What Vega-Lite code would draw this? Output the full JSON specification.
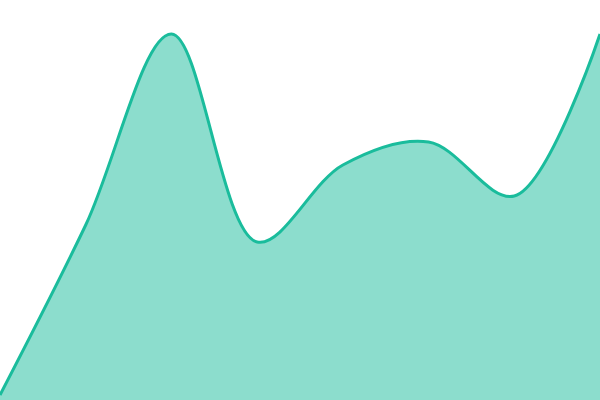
{
  "$schema": "https://vega.github.io/schema/vega-lite/v6.json",
  "autosize": {"type": "none"},
  "width": 600,
  "height": 400,
  "padding": 0,
  "view": {"stroke": null},
  "data": {
    "values": [
      {"i": 0, "v": 5},
      {"i": 1, "v": 175},
      {"i": 2, "v": 366},
      {"i": 3, "v": 158},
      {"i": 4, "v": 235},
      {"i": 5, "v": 258},
      {"i": 6, "v": 204},
      {"i": 7, "v": 366}
    ]
  },
  "encoding": {
    "x": {"field": "i", "type": "quantitative", "axis": null, "scale": {"domain": [0, 7], "nice": false, "zero": false}},
    "y": {"field": "v", "type": "quantitative", "axis": null, "scale": {"domain": [0, 400], "nice": false}}
  },
  "layer": [
    {"mark": {"type": "area", "interpolate": "catmull-rom", "color": "#1abc9c", "fillOpacity": 0.5}},
    {"mark": {"type": "line", "interpolate": "catmull-rom", "color": "#1abc9c", "strokeWidth": 3}}
  ]
}
